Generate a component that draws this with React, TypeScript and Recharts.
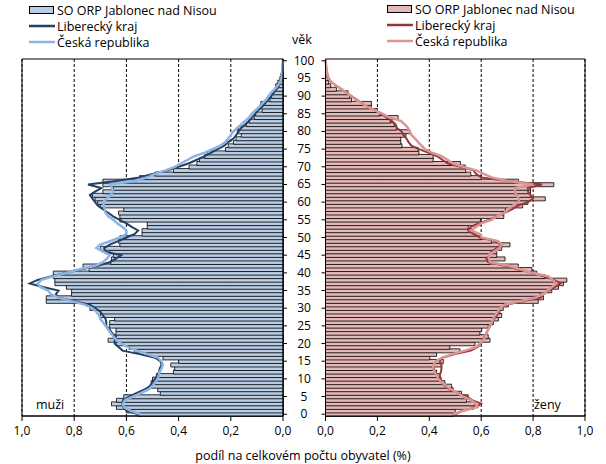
import { ComposedChart, Bar, Line, XAxis, YAxis, CartesianGrid, ReferenceArea, Legend } from 'recharts';

// ages 0..100
const ages = Array.from({ length: 101 }, (_, i) => i);
const valueTicks = [0, 0.2, 0.4, 0.6, 0.8, 1];
const ageTicks = [0, 5, 10, 15, 20, 25, 30, 35, 40, 45, 50, 55, 60, 65, 70, 75, 80, 85, 90, 95, 100];

const seriesNames = ['SO ORP Jablonec nad Nisou', 'Liberecký kraj', 'Česká republika'];

// muži
const menOrp = [
  0.555, 0.6, 0.638, 0.657, 0.638, 0.61, 0.47, 0.48, 0.505, 0.505,
  0.5, 0.485, 0.42, 0.415, 0.43, 0.4, 0.46, 0.52, 0.57, 0.59,
  0.64, 0.67, 0.645, 0.64, 0.64, 0.664, 0.664, 0.645, 0.7, 0.7,
  0.74, 0.74, 0.907, 0.907, 0.81, 0.81, 0.83, 0.874, 0.874, 0.88,
  0.88, 0.743, 0.766, 0.66, 0.657, 0.65, 0.664, 0.7, 0.625, 0.63,
  0.625, 0.54, 0.54, 0.52, 0.52, 0.625, 0.625, 0.63, 0.61, 0.7,
  0.71, 0.72, 0.73, 0.69, 0.65, 0.69, 0.69, 0.55, 0.49, 0.42,
  0.36, 0.33, 0.32, 0.3, 0.29, 0.22, 0.21, 0.19, 0.18, 0.16,
  0.175, 0.17, 0.14, 0.13, 0.11, 0.105, 0.08, 0.09, 0.085, 0.05,
  0.045, 0.04, 0.03, 0.028, 0.02, 0.012, 0.008, 0.005, 0.003, 0.002,
  0.001,
];
const menKraj = [
  0.555, 0.6, 0.613, 0.615, 0.613, 0.59, 0.56, 0.53, 0.51, 0.5,
  0.49, 0.48, 0.475, 0.472, 0.465, 0.47, 0.49, 0.55, 0.615, 0.63,
  0.645, 0.645, 0.64, 0.655, 0.664, 0.677, 0.677, 0.68, 0.69, 0.7,
  0.72, 0.74, 0.8, 0.86, 0.87, 0.86, 0.92, 0.97, 0.94, 0.89,
  0.83, 0.77, 0.71, 0.664, 0.64, 0.62, 0.68, 0.685, 0.664, 0.63,
  0.6, 0.568, 0.555, 0.58, 0.6, 0.626, 0.651, 0.67, 0.69, 0.709,
  0.72, 0.73, 0.74, 0.72, 0.696, 0.747, 0.64, 0.55, 0.5, 0.44,
  0.4, 0.36, 0.33, 0.3, 0.275, 0.25, 0.225, 0.21, 0.19, 0.179,
  0.17, 0.16, 0.145, 0.13, 0.118, 0.107, 0.095, 0.08, 0.068, 0.057,
  0.045, 0.035, 0.025, 0.015, 0.01, 0.006, 0.004, 0.002, 0.001, 0.001,
  0,
];
const menCr = [
  0.545, 0.585, 0.61, 0.613, 0.605, 0.575, 0.545, 0.515, 0.5, 0.49,
  0.48, 0.476, 0.472, 0.465, 0.46, 0.465, 0.48, 0.52, 0.56, 0.595,
  0.62, 0.638, 0.65, 0.66, 0.67, 0.68, 0.69, 0.7, 0.705, 0.715,
  0.73, 0.76, 0.81, 0.86, 0.89, 0.9, 0.93, 0.94, 0.925, 0.88,
  0.83, 0.78, 0.72, 0.69, 0.675, 0.664, 0.69, 0.715, 0.7, 0.66,
  0.625, 0.6, 0.6, 0.615, 0.635, 0.65, 0.67, 0.68, 0.683, 0.686,
  0.69, 0.675, 0.66, 0.651, 0.655, 0.662, 0.57, 0.52, 0.49, 0.45,
  0.415, 0.39, 0.365, 0.34, 0.3, 0.27, 0.24, 0.22, 0.21, 0.2,
  0.19, 0.175, 0.16, 0.145, 0.13, 0.12, 0.105, 0.09, 0.078, 0.065,
  0.055, 0.045, 0.032, 0.02, 0.01, 0.006, 0.004, 0.003, 0.002, 0.001,
  0,
];

// ženy
const womenOrp = [
  0.492, 0.5, 0.57, 0.576, 0.544, 0.55, 0.524, 0.492, 0.486, 0.46,
  0.44, 0.44, 0.428, 0.42, 0.447, 0.454, 0.402, 0.428, 0.518, 0.479,
  0.576, 0.634, 0.627, 0.595, 0.602, 0.627, 0.647, 0.666, 0.679, 0.672,
  0.685, 0.705, 0.82, 0.84, 0.827, 0.872, 0.898, 0.917, 0.93, 0.846,
  0.814, 0.795, 0.743, 0.634, 0.692, 0.66, 0.66, 0.679, 0.711, 0.64,
  0.6, 0.58, 0.57, 0.55, 0.597, 0.597, 0.687, 0.687, 0.693, 0.76,
  0.78, 0.847, 0.79, 0.79, 0.79, 0.88, 0.744, 0.6, 0.56, 0.54,
  0.539, 0.52, 0.415, 0.415, 0.36, 0.357, 0.295, 0.29, 0.29, 0.31,
  0.325, 0.273, 0.265, 0.25, 0.28, 0.21, 0.2, 0.177, 0.177, 0.1,
  0.093, 0.087, 0.042, 0.02, 0.012, 0.01, 0.006, 0.004, 0.002, 0.001,
  0.001,
];
const womenKraj = [
  0.5, 0.53, 0.58, 0.6, 0.565, 0.545, 0.51, 0.48, 0.46, 0.447,
  0.445, 0.44, 0.445, 0.447, 0.447, 0.44, 0.45, 0.5, 0.56, 0.585,
  0.6, 0.605, 0.613, 0.62, 0.627, 0.635, 0.64, 0.65, 0.66, 0.666,
  0.672, 0.7, 0.76, 0.83, 0.84, 0.86, 0.885, 0.905, 0.88, 0.84,
  0.795, 0.74, 0.69, 0.627, 0.62, 0.63, 0.64, 0.66, 0.679, 0.653,
  0.595, 0.57, 0.55, 0.56, 0.59, 0.63, 0.66, 0.69, 0.72, 0.74,
  0.78, 0.8, 0.79, 0.78, 0.78, 0.835, 0.7, 0.6, 0.58, 0.57,
  0.52, 0.47, 0.45, 0.43, 0.396, 0.36, 0.331, 0.32, 0.312, 0.3,
  0.293, 0.275, 0.27, 0.255, 0.235, 0.215, 0.19, 0.16, 0.14, 0.12,
  0.1, 0.08, 0.061, 0.04, 0.022, 0.012, 0.008, 0.005, 0.003, 0.002,
  0.001,
];
const womenCr = [
  0.49, 0.53, 0.585, 0.58, 0.56, 0.53, 0.51, 0.485, 0.465, 0.447,
  0.435, 0.428, 0.42, 0.415, 0.417, 0.425, 0.45, 0.49, 0.537, 0.58,
  0.595, 0.608, 0.615, 0.621, 0.627, 0.634, 0.64, 0.647, 0.653, 0.663,
  0.672, 0.69, 0.75, 0.81, 0.84, 0.855, 0.872, 0.89, 0.875, 0.859,
  0.795, 0.75, 0.705, 0.634, 0.63, 0.627, 0.65, 0.67, 0.679, 0.665,
  0.602, 0.595, 0.56, 0.58, 0.6, 0.64, 0.66, 0.69, 0.705, 0.72,
  0.745, 0.745, 0.735, 0.73, 0.73, 0.8, 0.7, 0.64, 0.61, 0.58,
  0.53, 0.49, 0.47, 0.447, 0.41, 0.383, 0.37, 0.357, 0.345, 0.331,
  0.325, 0.318, 0.305, 0.29, 0.245, 0.22, 0.19, 0.16, 0.14, 0.115,
  0.1, 0.08, 0.061, 0.04, 0.022, 0.012, 0.008, 0.005, 0.003, 0.002,
  0.001,
];

const FONT = '"Open Sans", sans-serif';
const menColors = { bar: '#B9CDE5', kraj: '#233F63', cr: '#8EB4E3' };
const womenColors = { bar: '#E6B9B8', kraj: '#953735', cr: '#DA9694' };

const menData = ages.map((age, i) => ({ age, orp: menOrp[i], kraj: menKraj[i], cr: menCr[i] }));
const womenData = ages.map((age, i) => ({ age, orp: womenOrp[i], kraj: womenKraj[i], cr: womenCr[i] }));

const fmt = (v: number) => v.toFixed(1).replace('.', ',');

function LegendBox({ colors }: { colors: typeof menColors }) {
  const swatch = [colors.bar, colors.kraj, colors.cr];
  return (
    <div style={{ fontFamily: FONT, fontSize: 12.5, color: '#000' }}>
      {seriesNames.map((name, i) => (
        <div key={name} style={{ display: 'flex', alignItems: 'center', height: 16 }}>
          <svg width={26} height={10}>
            {i === 0 ? (
              <rect x={0.5} y={1.5} width={24} height={7} fill={swatch[i]} stroke="#000" />
            ) : (
              <line x1={0} x2={26} y1={5} y2={5} stroke={swatch[i]} strokeWidth={2.5} />
            )}
          </svg>
          <span style={{ marginLeft: 2, whiteSpace: 'nowrap' }}>{name}</span>
        </div>
      ))}
    </div>
  );
}

// age labels sit centred in the gap between the two panels
const AgeTick = ({ x, y, payload }: any) => (
  <text x={x + 15} y={y} dy={4} textAnchor="middle" fontSize={12} fontFamily={FONT} fill="#000">
    {payload.value}
  </text>
);

const axisTick = { fontSize: 12, fontFamily: FONT, fill: '#000' };

export default function App() {
  return (
    <div style={{ position: 'absolute', left: 0, top: 0, width: 606, height: 464, background: '#fff' }}>
      <div style={{ position: 'absolute', left: 0, top: 0 }}>
        <ComposedChart width={330} height={464} data={menData} layout="vertical"
          margin={{ top: 59, right: 0, bottom: 18, left: 22 }} barCategoryGap={0}>
          <CartesianGrid horizontal={false} stroke="#000" strokeDasharray="3 2" />
          <XAxis type="number" domain={[0, 1]} ticks={valueTicks} reversed tickFormatter={fmt}
            tick={axisTick} tickSize={5} tickMargin={5} height={30} stroke="#000" interval={0} />
          <YAxis type="category" dataKey="age" orientation="right" reversed width={47}
            ticks={ageTicks} interval={0} tick={<AgeTick />} tickSize={4} stroke="#000" />
          <Bar dataKey="orp" fill={menColors.bar} stroke="#000" strokeWidth={0.8} isAnimationActive={false} />
          <Line dataKey="kraj" type="linear" stroke={menColors.kraj} strokeWidth={2} dot={false} isAnimationActive={false} />
          <Line dataKey="cr" type="linear" stroke={menColors.cr} strokeWidth={2.5} dot={false} isAnimationActive={false} />
          <ReferenceArea x1={0} x2={1} fill="none" stroke="#000" strokeWidth={1} />
          <Legend layout="horizontal" align="center" verticalAlign="middle"
            wrapperStyle={{ top: 2, left: 29, width: 'auto' }} content={() => <LegendBox colors={menColors} />} />
        </ComposedChart>
      </div>
      <div style={{ position: 'absolute', left: 306, top: 0 }}>
        <ComposedChart width={300} height={464} data={womenData} layout="vertical"
          margin={{ top: 59, right: 21, bottom: 18, left: 0 }} barCategoryGap={0}>
          <CartesianGrid horizontal={false} stroke="#000" strokeDasharray="3 2" />
          <XAxis type="number" domain={[0, 1]} ticks={valueTicks} tickFormatter={fmt}
            tick={axisTick} tickSize={5} tickMargin={5} height={30} stroke="#000" interval={0} />
          <YAxis type="category" dataKey="age" orientation="left" reversed width={19.5}
            ticks={ageTicks} interval={0} tick={() => <g />} tickSize={4} stroke="#000" />
          <Bar dataKey="orp" fill={womenColors.bar} stroke="#000" strokeWidth={0.8} isAnimationActive={false} />
          <Line dataKey="kraj" type="linear" stroke={womenColors.kraj} strokeWidth={2} dot={false} isAnimationActive={false} />
          <Line dataKey="cr" type="linear" stroke={womenColors.cr} strokeWidth={2.5} dot={false} isAnimationActive={false} />
          <ReferenceArea x1={0} x2={1} fill="none" stroke="#000" strokeWidth={1} />
          <Legend layout="horizontal" align="center" verticalAlign="middle"
            wrapperStyle={{ top: 1, left: 81, width: 'auto' }} content={() => <LegendBox colors={womenColors} />} />
        </ComposedChart>
      </div>
      <div style={{ position: 'absolute', left: 292, top: 31, fontFamily: FONT, fontSize: 12.5 }}>věk</div>
      <div style={{ position: 'absolute', left: 36, top: 396, fontFamily: FONT, fontSize: 12.5 }}>muži</div>
      <div style={{ position: 'absolute', left: 534, top: 396, fontFamily: FONT, fontSize: 12.5 }}>ženy</div>
      <div style={{ position: 'absolute', left: 0, width: 606, top: 447, textAlign: 'center', fontFamily: FONT, fontSize: 12.5 }}>
        podíl na celkovém počtu obyvatel (%)
      </div>
    </div>
  );
}
